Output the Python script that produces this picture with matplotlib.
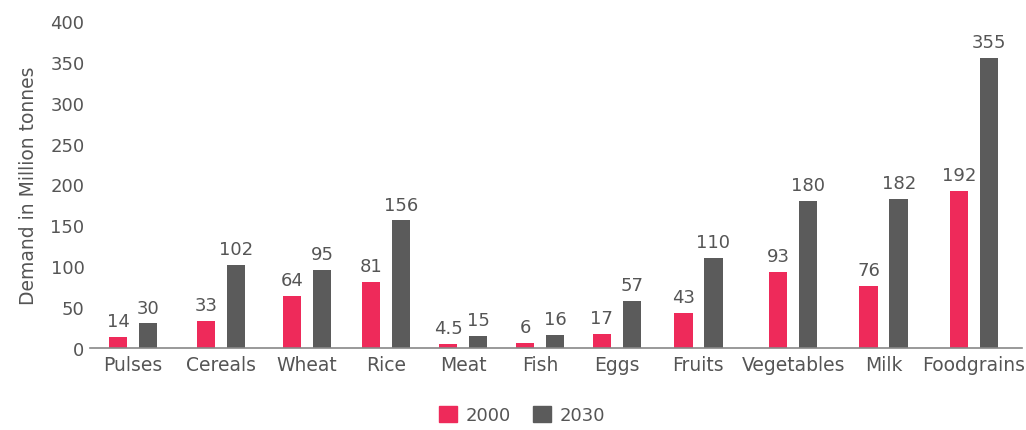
import numpy as np
import matplotlib
matplotlib.use("Agg")
import matplotlib.pyplot as plt
from matplotlib.patches import Patch

categories = ["Pulses", "Cereals", "Wheat", "Rice", "Meat", "Fish", "Eggs",
              "Fruits", "Vegetables", "Milk", "Foodgrains"]
demand_2000 = [14, 33, 64, 81, 4.5, 6, 17, 43, 93, 76, 192]
demand_2030 = [30, 102, 95, 156, 15, 16, 57, 110, 180, 182, 355]
labels_2000 = ["14", "33", "64", "81", "4.5", "6", "17", "43", "93", "76", "192"]
labels_2030 = ["30", "102", "95", "156", "15", "16", "57", "110", "180", "182", "355"]
series_names = ["2000", "2030"]
yticks = [0, 50, 100, 150, 200, 250, 300, 350, 400]

RED = "#EE2A5A"
GRAY = "#5B5B5B"
TXT = "#555555"

W, H = 1026, 431
fig = plt.figure(figsize=(W / 100, H / 100), dpi=100)
ax = fig.add_axes([90 / W, (H - 349) / H, 932 / W, 327 / H])

# group spacing follows label length (wider labels get more room)
lens = np.array([len(c) for c in categories], dtype=float)
gaps = 58.8 + 4.52 * (lens[:-1] + lens[1:]) / 2
centers = 133 + np.concatenate([[0], np.cumsum(gaps)])

bw = 18.5
off = 15
b1 = ax.bar(centers - off, demand_2000, width=bw, color=RED, zorder=2)
b2 = ax.bar(centers + off, demand_2030, width=bw, color=GRAY, zorder=2)

for bars, labs in ((b1, labels_2000), (b2, labels_2030)):
    for rect, lab in zip(bars, labs):
        ax.annotate(lab, (rect.get_x() + rect.get_width() / 2, rect.get_height()),
                    xytext=(0, 5), textcoords="offset points", ha="center",
                    va="bottom", fontsize=13, color=TXT, clip_on=False)

ax.set_xlim(90, 1022)
ax.set_ylim(0, 400)
ax.set_yticks(yticks)
ax.set_yticklabels([str(v) for v in yticks], fontsize=13, color=TXT)
ax.set_xticks(centers)
ax.set_xticklabels(categories, fontsize=13.5, color=TXT)
ax.tick_params(axis="both", length=0)
ax.tick_params(axis="x", pad=5)
ax.tick_params(axis="y", pad=4)
for s in ("top", "right", "left"):
    ax.spines[s].set_visible(False)
ax.spines["bottom"].set_color("#888888")
ax.spines["bottom"].set_linewidth(1.2)

ax.set_ylabel("Demand in Million tonnes", fontsize=13.5, color=TXT, labelpad=9)

handles = [Patch(color=RED), Patch(color=GRAY)]
fig.legend(handles, series_names, loc="center", bbox_to_anchor=(522 / W, 15 / H),
           ncol=2, frameon=False, fontsize=13, handlelength=1.0, handleheight=1.0,
           handletextpad=0.5, columnspacing=1.2, labelcolor=TXT)

fig.savefig("out.png", dpi=100)
